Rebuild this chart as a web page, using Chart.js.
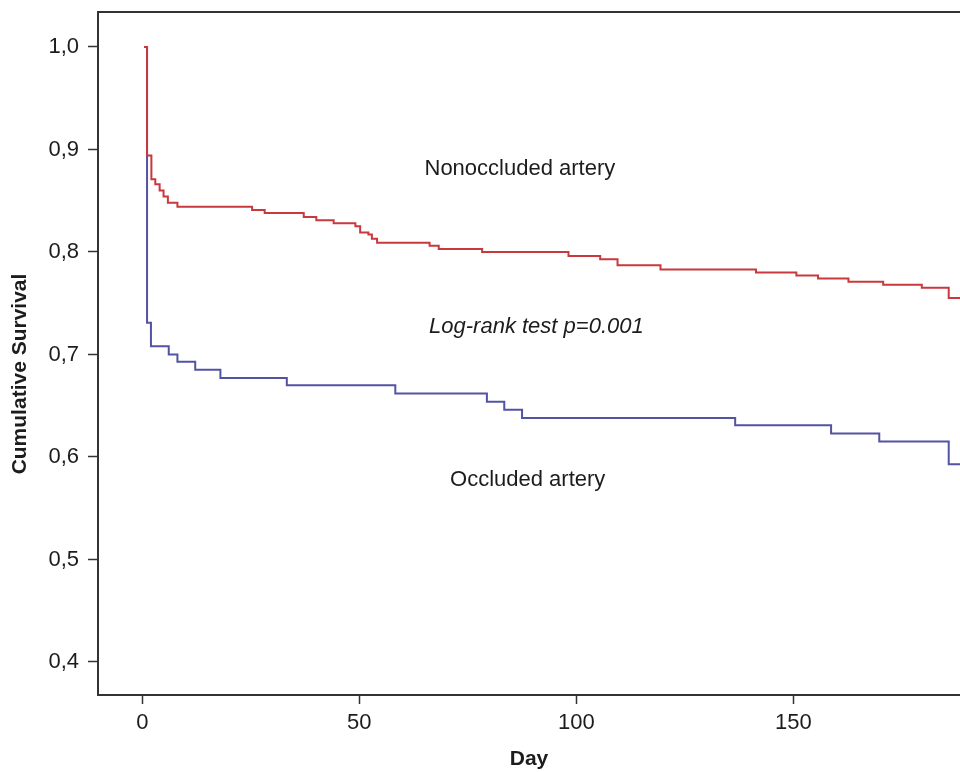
<!DOCTYPE html>
<html>
<head>
<meta charset="utf-8">
<script src="https://cdn.jsdelivr.net/npm/chart.js@4"></script>
<style>
  html, body { margin: 0; padding: 0; background: #fff; }
</style>
</head>
<body>
<canvas id="kmChart" width="960" height="772"></canvas>
<script>
// Datos (Kaplan-Meier)
const openDays = [0.4, 1.1, 2.1, 3.0, 4.0, 4.9, 5.9, 8.1, 25.3, 28.2, 37.2, 40.1, 44.1, 49.1, 50.2, 52.1, 52.9, 54.1, 66.2, 68.3, 78.3, 98.2, 105.5, 109.5, 119.4, 141.4, 150.7, 155.7, 162.7, 170.7, 179.6, 185.8, 190];
const openSurv = [1.0, 0.894, 0.871, 0.866, 0.860, 0.854, 0.848, 0.844, 0.841, 0.838, 0.834, 0.831, 0.828, 0.825, 0.819, 0.817, 0.813, 0.809, 0.806, 0.803, 0.800, 0.796, 0.793, 0.787, 0.783, 0.780, 0.777, 0.774, 0.771, 0.768, 0.765, 0.755, 0.755];

const occDays = [0.4, 1.1, 2.0, 6.1, 8.1, 12.2, 18.0, 33.3, 58.3, 79.4, 83.4, 87.5, 136.6, 158.7, 169.8, 185.8, 190];
const occSurv = [1.0, 0.731, 0.708, 0.700, 0.693, 0.685, 0.677, 0.670, 0.662, 0.654, 0.646, 0.638, 0.631, 0.623, 0.615, 0.593, 0.593];

const xTicks = [0, 50, 100, 150];
const yTicks = [0.4, 0.5, 0.6, 0.7, 0.8, 0.9, 1.0];

const FONT = '"Liberation Sans", Arial, sans-serif';
const INK = "#1c1c1c";
const FRAME = "#333333";

function toPoints(days, surv) {
  return days.map((d, i) => ({ x: d, y: surv[i] }));
}

// Textos libres + línea superior del marco
const textos = {
  id: "textos",
  afterDatasetsDraw(chart) {
    const { ctx, chartArea, scales } = chart;
    const x = scales.x, y = scales.y;

    ctx.save();
    ctx.strokeStyle = FRAME;
    ctx.lineWidth = 2;
    ctx.beginPath();
    ctx.moveTo(chartArea.left - 1, chartArea.top);
    ctx.lineTo(chartArea.right, chartArea.top);
    ctx.stroke();

    ctx.fillStyle = INK;
    ctx.textAlign = "center";
    ctx.textBaseline = "middle";

    ctx.font = "22px " + FONT;
    ctx.fillText("Nonoccluded artery", x.getPixelForValue(87.0), y.getPixelForValue(0.881));
    ctx.fillText("Occluded artery", x.getPixelForValue(88.8), y.getPixelForValue(0.578));

    ctx.font = "italic 22px " + FONT;
    ctx.fillText("Log-rank test p=0.001", x.getPixelForValue(90.8), y.getPixelForValue(0.727));

    // título eje Y
    ctx.font = "bold 21px " + FONT;
    ctx.translate(20, 374);
    ctx.rotate(-Math.PI / 2);
    ctx.fillText("Cumulative Survival", 0, 0);
    ctx.restore();
  }
};

new Chart(document.getElementById("kmChart"), {
  type: "line",
  data: {
    datasets: [
      {
        label: "Nonoccluded artery",
        data: toPoints(openDays, openSurv),
        borderColor: "#c9383d",
        borderWidth: 2,
        stepped: true,
        pointRadius: 0,
        fill: false
      },
      {
        label: "Occluded artery",
        data: toPoints(occDays, occSurv),
        borderColor: "#5353a3",
        borderWidth: 2,
        stepped: true,
        pointRadius: 0,
        fill: false
      }
    ]
  },
  options: {
    responsive: false,
    animation: false,
    layout: { padding: { top: 12, right: 0, bottom: 0, left: 0 } },
    plugins: {
      legend: { display: false },
      tooltip: { enabled: false }
    },
    scales: {
      x: {
        type: "linear",
        min: -10.2,
        max: 188.4,
        afterBuildTicks: s => { s.ticks = xTicks.map(v => ({ value: v })); },
        afterFit: s => { s.height = 77; s.paddingLeft = 0; s.paddingRight = 0; },
        border: { color: FRAME, width: 2 },
        grid: { drawOnChartArea: false, tickLength: 9, tickColor: FRAME, tickWidth: 1.5 },
        ticks: { font: { family: FONT, size: 22 }, color: INK, padding: 6, maxRotation: 0 },
        title: {
          display: true,
          text: "Day",
          color: INK,
          font: { family: FONT, size: 21, weight: "bold" },
          padding: { top: 4, bottom: 0 }
        }
      },
      y: {
        type: "linear",
        min: 0.3678,
        max: 1.0341,
        afterBuildTicks: s => { s.ticks = yTicks.map(v => ({ value: v })); },
        afterFit: s => { s.width = 98; s.paddingTop = 0; s.paddingBottom = 0; },
        border: { color: FRAME, width: 2 },
        grid: { drawOnChartArea: false, tickLength: 10, tickColor: FRAME, tickWidth: 1.5 },
        ticks: {
          font: { family: FONT, size: 22 },
          color: INK,
          padding: 9,
          callback: v => v.toFixed(1).replace(".", ",")
        }
      }
    }
  },
  plugins: [textos]
});
</script>
</body>
</html>
